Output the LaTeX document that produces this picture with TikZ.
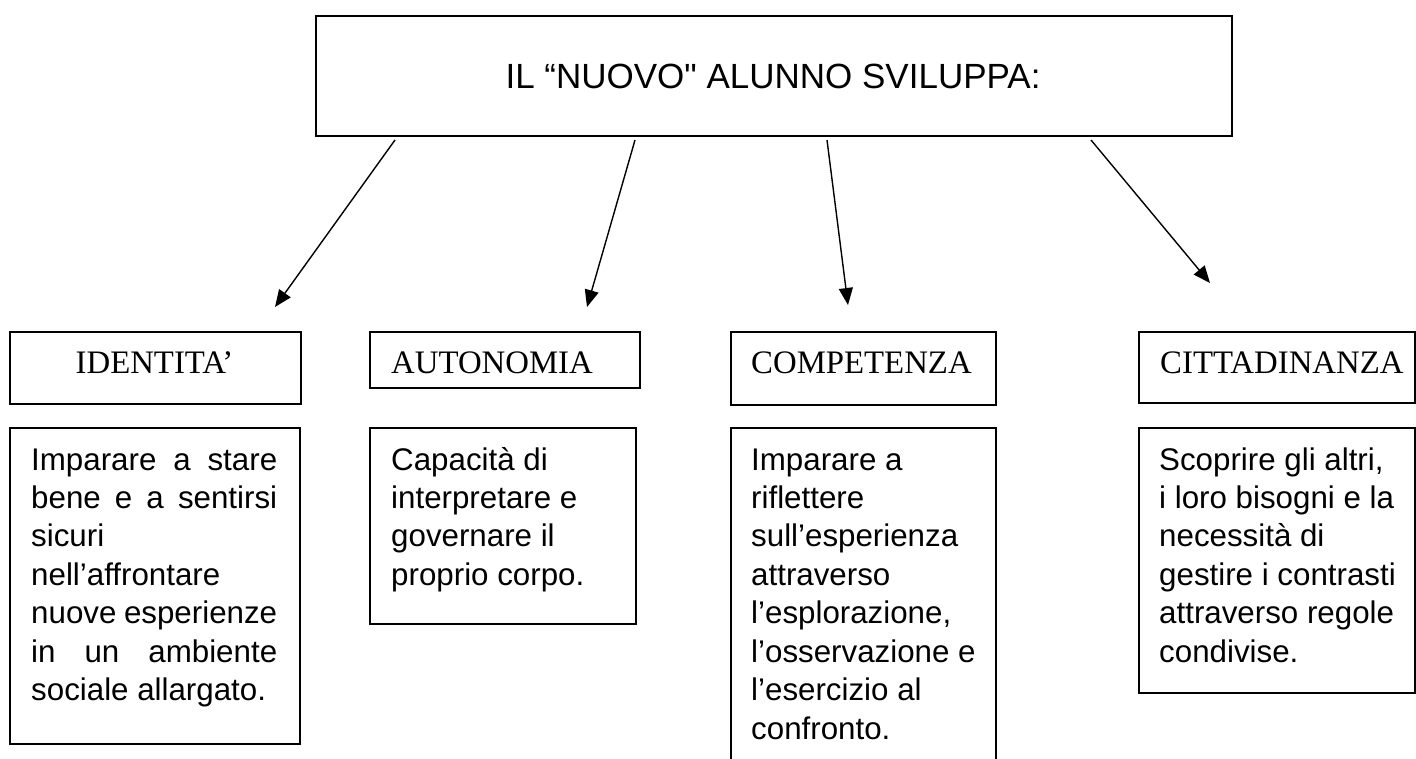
\documentclass[tikz,border=0pt]{standalone}
\usepackage{fontspec}
\newfontfamily\titlef{Liberation Sans}[Ligatures=ResetAll]
\newfontfamily\headf{Liberation Serif}
\newfontfamily\bodyf{Liberation Sans}
\usetikzlibrary{arrows.meta}
\newcommand{\jl}[1]{\makebox[\linewidth][s]{#1}}
\begin{document}
\begin{tikzpicture}[x=1pt,y=-1pt,
  box/.style={draw=black,line width=1.6pt,inner sep=0pt,anchor=north west,fill=none},
  hbox/.style={box},
  headtxt/.style={inner sep=0pt,anchor=base west,font=\headf\fontsize{32.8}{38}\selectfont},
  bodytxt/.style={inner sep=0pt,anchor=base west},
  conn/.style={line width=1.4pt,-{Triangle[length=17pt,width=14pt]}}]
\clip (0,0) rectangle (1416,758);
\fill[white] (0,0) rectangle (1416,758);
% top box
\node[box,line width=2pt,minimum width=916pt,minimum height=120pt] (top) at (315,15) {};
\node[inner sep=0pt,anchor=base,font=\titlef\fontsize{35}{40}\selectfont] (title) at (773,88) {IL “NUOVO" ALUNNO SVILUPPA:};
% header boxes
\node[hbox,minimum width=291pt,minimum height=72pt] (h1) at (9,331) {};
\node[hbox,minimum width=270pt,minimum height=56pt] (h2) at (369,331) {};
\node[hbox,minimum width=265pt,minimum height=73pt] (h3) at (730,331) {};
\node[hbox,minimum width=276pt,minimum height=71pt] (h4) at (1138,331) {};
\node[headtxt,anchor=base] (t1) at (154.5,373) {IDENTITA’};
\node[headtxt] (t2) at (391,373) {AUTONOMIA};
\node[headtxt] (t3) at (751,373) {COMPETENZA};
\node[headtxt] (t4) at (1160,373) {CITTADINANZA};
% body boxes
\node[box,minimum width=290pt,minimum height=316pt] (b1) at (9,427) {};
\node[box,minimum width=266pt,minimum height=196pt] (b2) at (369,427) {};
\node[box,minimum width=265pt,minimum height=380pt] (b3) at (730,427) {};
\node[box,minimum width=276pt,minimum height=265pt] (b4) at (1138,427) {};
\node[bodytxt] (x1) at (31,470) {\parbox[t]{246pt}{\bodyf\fontsize{31.3}{38.45}\selectfont
\jl{Imparare a stare}\\
\jl{bene e a sentirsi}\\
sicuri\\
nell’affrontare\\
\jl{nuove esperienze}\\
\jl{in un ambiente}\\
sociale allargato.}};
\node[bodytxt] (x2) at (391,470) {\parbox[t]{240pt}{\bodyf\fontsize{31.3}{38.45}\selectfont
Capacità di\\
interpretare e\\
governare il\\
proprio corpo.}};
\node[bodytxt] (x3) at (751,470) {\parbox[t]{240pt}{\bodyf\fontsize{31.3}{38.45}\selectfont
Imparare a\\
riflettere\\
sull’esperienza\\
attraverso\\
l’esplorazione,\\
l’osservazione e\\
l’esercizio al\\
confronto.}};
\node[bodytxt] (x4) at (1159,470) {\parbox[t]{255pt}{\bodyf\fontsize{31.3}{38.45}\selectfont
Scoprire gli altri,\\
i loro bisogni e la\\
necessità di\\
gestire i contrasti\\
attraverso regole\\
condivise.}};
% connectors
\coordinate (s1) at (395,140); \coordinate (e1) at (275,307);
\coordinate (s2) at (635,140); \coordinate (e2) at (587,307);
\coordinate (s3) at (827,140); \coordinate (e3) at (848,305);
\coordinate (s4) at (1091,140); \coordinate (e4) at (1210,283);
\draw[conn] (s1) -- (e1);
\draw[conn] (s2) -- (e2);
\draw[conn] (s3) -- (e3);
\draw[conn] (s4) -- (e4);
\end{tikzpicture}
\end{document}
